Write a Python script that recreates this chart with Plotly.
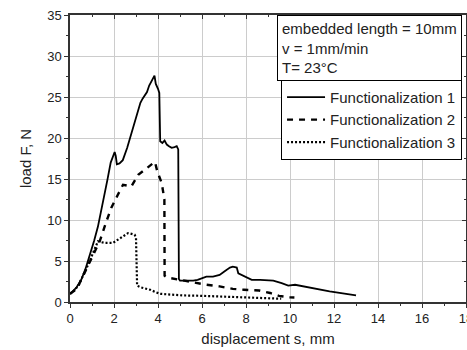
import plotly.graph_objects as go

# ---- data ----
x1 = [0, 0.06, 0.3, 0.51, 0.7, 0.89, 1.1, 1.27, 1.5, 1.7, 1.85, 1.95, 2.03, 2.08, 2.13, 2.25, 2.4,
      2.6, 2.8, 3.0, 3.2, 3.3, 3.5, 3.6, 3.7, 3.78, 3.84, 3.9, 4.0, 4.06, 4.1, 4.2, 4.3, 4.4,
      4.5, 4.62, 4.75, 4.85, 4.92, 4.95, 5.0, 5.3, 5.6, 5.8, 6.0, 6.2, 6.5, 6.8, 7.0, 7.27,
      7.4, 7.58, 7.65, 7.95, 8.26, 8.64, 9.24, 9.62, 9.92, 10.23, 10.5, 10.76, 11.3, 11.8,
      12.4, 13.0]
y1 = [1.0, 1.1, 1.8, 2.7, 4.0, 5.6, 7.5, 9.2, 12.5, 14.9, 17.0, 17.6, 18.3, 17.8, 16.8, 16.9, 17.3,
      18.8, 20.7, 22.7, 24.3, 24.8, 25.6, 26.4, 27.0, 27.3, 27.6, 26.6, 26.0, 25.5, 19.6, 19.4,
      19.7, 19.2, 19.0, 18.8, 18.9, 19.0, 18.6, 2.8, 2.6, 2.6, 2.6, 2.7, 2.9, 3.1, 3.1, 3.3,
      3.7, 4.2, 4.3, 4.2, 3.5, 3.1, 2.7, 2.7, 2.6, 2.3, 2.0, 2.1, 1.95, 1.8, 1.55, 1.3, 1.05,
      0.8]

x2 = [0, 0.2, 0.4, 0.6, 0.82, 1.0, 1.35, 1.65, 1.88, 2.18, 2.41, 2.6, 2.79, 3.1, 3.49, 3.86,
      3.97, 4.17, 4.29, 4.3, 4.4, 4.8, 5.3, 5.8, 6.2, 6.8, 7.4, 7.9, 8.6, 9.1, 9.5, 10.0, 10.2]
y2 = [1.0, 1.4, 2.1, 3.2, 4.5, 5.6, 7.4, 9.8, 11.5, 13.1, 14.3, 14.2, 14.1, 15.5, 16.3, 17.1,
      15.9, 14.5, 12.5, 3.2, 3.0, 2.8, 2.5, 2.3, 2.1, 1.9, 1.6, 1.5, 1.4, 1.1, 0.75, 0.57, 0.55]

x3 = [0, 0.2, 0.4, 0.6, 0.74, 0.9, 1.05, 1.27, 1.58, 1.95, 2.18, 2.4, 2.64, 2.8, 2.94, 3.0,
      3.02, 3.05, 3.2, 3.4, 3.64, 3.9, 4.1, 4.6, 5.15, 6.0, 7.0, 7.4, 8.0, 8.78, 9.24, 9.6]
y3 = [1.0, 1.4, 2.1, 3.2, 4.1, 5.0, 6.0, 7.4, 7.2, 7.2, 7.6, 8.0, 8.4, 8.3, 8.2, 7.8,
      5.0, 2.0, 1.8, 1.7, 1.5, 1.2, 1.0, 0.9, 0.8, 0.75, 0.65, 0.6, 0.55, 0.5, 0.4, 0.4]

names = ["Functionalization 1", "Functionalization 2", "Functionalization 3"]
info_text = "embedded length = 10mm<br>v = 1mm/min<br>T= 23°C"
x_title = "displacement s, mm"
y_title = "load F, N"

FONT = "Arial, Liberation Sans, sans-serif"

fig = go.Figure()
fig.add_trace(go.Scatter(x=x1, y=y1, mode="lines", name=names[0],
                         line=dict(color="black", width=1.8)))
fig.add_trace(go.Scatter(x=x2, y=y2, mode="lines", name=names[1],
                         line=dict(color="black", width=2.4, dash="6px,6px")))
fig.add_trace(go.Scatter(x=x3, y=y3, mode="lines", name=names[2],
                         line=dict(color="black", width=2.2, dash="2px,2px")))
# invisible trace for top/right tick axes
fig.add_trace(go.Scatter(x=[0], y=[0], xaxis="x2", yaxis="y2", mode="markers",
                         marker=dict(opacity=0), showlegend=False, hoverinfo="skip"))

axis_common = dict(showline=True, linecolor="#333333", linewidth=1.5, mirror=True,
                   gridcolor="#cccccc", gridwidth=1, zeroline=False, automargin=False,
                   ticks="outside", ticklen=4, tickwidth=1.2, tickcolor="#333333",
                   ticklabeloverflow="allow",
                   tickfont=dict(family=FONT, size=13, color="#222222"))

fig.update_layout(
    width=467, height=350,
    margin=dict(l=70, r=1, t=15, b=48, autoexpand=False),
    paper_bgcolor="white", plot_bgcolor="white",
    font=dict(family=FONT, size=15, color="#222222"),
    xaxis=dict(range=[0, 18], dtick=2, tick0=0,
               minor=dict(dtick=1, ticks="outside", ticklen=2, tickcolor="#333333", showgrid=False),
               title=dict(text=x_title, font=dict(size=15), standoff=8), **axis_common),
    yaxis=dict(range=[0, 35], dtick=5, tick0=0,
               minor=dict(dtick=2.5, ticks="outside", ticklen=2, tickcolor="#333333", showgrid=False),
               title=dict(text=y_title, font=dict(size=15), standoff=12), **axis_common),
    xaxis2=dict(range=[0, 18], dtick=2, overlaying="x", side="top", anchor="y",
                showgrid=False, showticklabels=False, zeroline=False, automargin=False,
                ticks="inside", ticklen=4, tickcolor="#333333",
                minor=dict(dtick=1, ticks="inside", ticklen=2, tickcolor="#333333")),
    yaxis2=dict(range=[0, 35], dtick=5, overlaying="y", side="right", anchor="x",
                showgrid=False, showticklabels=False, zeroline=False, automargin=False,
                ticks="inside", ticklen=4, tickcolor="#333333",
                minor=dict(dtick=2.5, ticks="inside", ticklen=2, tickcolor="#333333")),
    legend=dict(x=0.99, xanchor="right", y=0.774, yanchor="top",
                bordercolor="black", borderwidth=1, bgcolor="white",
                font=dict(family=FONT, size=15), tracegroupgap=0, itemwidth=38),
    showlegend=True,
)

fig.add_annotation(text=info_text, xref="paper", yref="paper", x=0.99, y=1.0,
                   xanchor="right", yanchor="top", align="left", showarrow=False,
                   bordercolor="black", borderwidth=1, borderpad=4, bgcolor="white",
                   font=dict(family=FONT, size=15, color="#222222"))

fig.write_html("out.html")
